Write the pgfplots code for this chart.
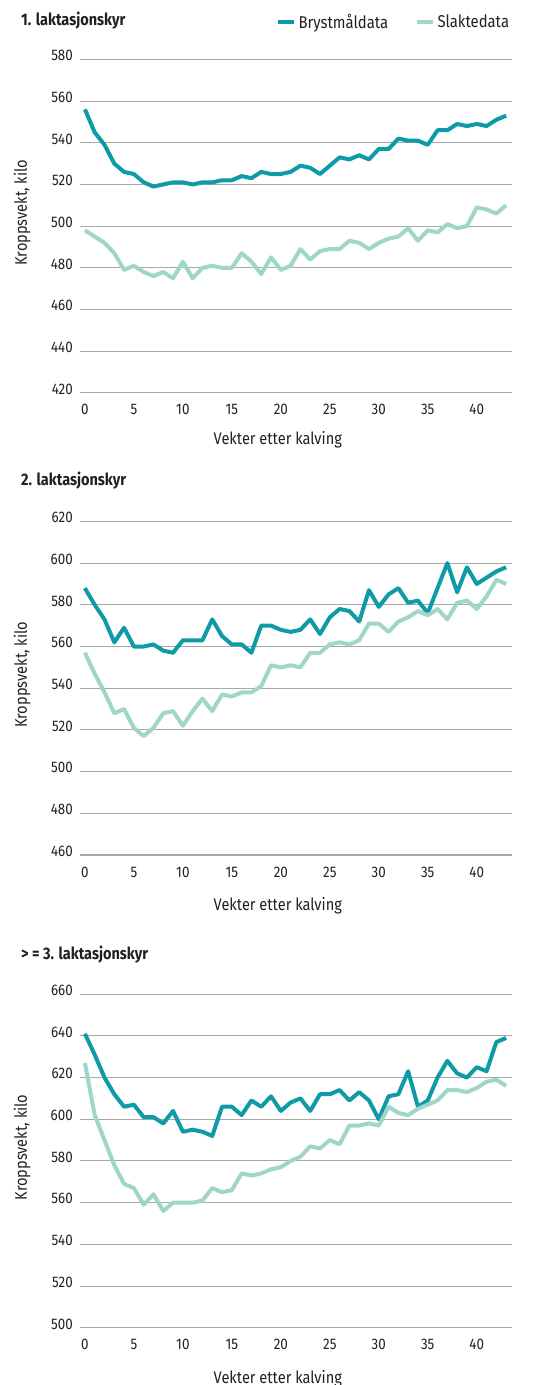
\documentclass[border=0pt]{standalone}
\usepackage{fontspec}
\setmainfont{Fira Sans}[FakeStretch=0.87]
\usepackage{pgfplots}
\usepackage{pgfplotstable}
\pgfplotsset{compat=1.18}

\definecolor{bryst}{HTML}{0E9AA7}
\definecolor{slakt}{HTML}{9FD6C8}
\definecolor{gridc}{HTML}{A8A8A8}
\definecolor{txt}{HTML}{231F20}

% uke, brystmaal, slakt
\pgfplotstableread{
x b s
0 556 498
1 545 495
2 539 492
3 530 487
4 526 479
5 525 481
6 521 478
7 519 476
8 520 478
9 521 475
10 521 483
11 520 475
12 521 480
13 521 481
14 522 480
15 522 480
16 524 487
17 523 483
18 526 477
19 525 485
20 525 479
21 526 481
22 529 489
23 528 484
24 525 488
25 529 489
26 533 489
27 532 493
28 534 492
29 532 489
30 537 492
31 537 494
32 542 495
33 541 499
34 541 493
35 539 498
36 546 497
37 546 501
38 549 499
39 548 500
40 549 509
41 548 508
42 551 506
43 553 510
}\lakta

\pgfplotstableread{
x b s
0 588 557
1 580 547
2 573 538
3 562 528
4 569 530
5 560 521
6 560 517
7 561 521
8 558 528
9 557 529
10 563 522
11 563 529
12 563 535
13 573 529
14 565 537
15 561 536
16 561 538
17 557 538
18 570 541
19 570 551
20 568 550
21 567 551
22 568 550
23 573 557
24 566 557
25 574 561
26 578 562
27 577 561
28 572 563
29 587 571
30 579 571
31 585 567
32 588 572
33 581 574
34 582 577
35 576 575
36 588 578
37 600 573
38 586 581
39 598 582
40 590 578
41 593 584
42 596 592
43 598 590
}\laktb

\pgfplotstableread{
x b s
0 641 627
1 631 602
2 620 590
3 612 578
4 606 569
5 607 567
6 601 559
7 601 564
8 598 556
9 604 560
10 594 560
11 595 560
12 594 561
13 592 567
14 606 565
15 606 566
16 602 574
17 609 573
18 606 574
19 611 576
20 604 577
21 608 580
22 610 582
23 604 587
24 612 586
25 612 590
26 614 588
27 609 597
28 613 597
29 609 598
30 600 597
31 611 606
32 612 603
33 623 602
34 606 605
35 609 607
36 620 609
37 628 614
38 622 614
39 620 613
40 625 615
41 623 618
42 637 619
43 639 616
}\laktc

\pgfplotsset{
  panel/.style={
    scale only axis, width=324pt, height=250.2pt,
    anchor=south west,
    xmin=-0.5, xmax=43.6,
    xtick={0,5,...,40},
    axis line style={draw=none},
    major tick length=0pt,
    ymajorgrids, grid style={gridc, line width=0.8pt},
    font=\fontsize{11.5}{13}\selectfont\color{txt},
    /pgf/number format/assume math mode=true,
    /pgf/number format/set thousands separator={},
    yticklabel style={anchor=base east, inner sep=0pt, xshift=-5.25pt, yshift=-1pt},
    xticklabel style={anchor=base, inner sep=0pt, yshift=-16.5pt},
    xlabel={Vekter etter kalving},
    ylabel={Kroppsvekt, kilo},
    label style={font=\fontsize{12.6}{14}\selectfont\color{txt}},
    ylabel style={at={(axis description cs:-0.134,0.54)}, anchor=center, rotate=0},
    title style={anchor=base west, inner sep=0pt, font=\fontsize{12.5}{14}\selectfont\bfseries\color{txt}},
    every axis plot/.append style={line width=3pt, line join=round, mark=none},
  },
}

\begin{document}
\begin{tikzpicture}
\useasboundingbox (0,0) rectangle (413.25pt,-1038.75pt);

\begin{axis}[panel, at={(60pt,-294.7pt)},
  ymin=420, ymax=580, ytick={420,440,...,580},
  title={1. laktasjonskyr},
  title style={at={(axis description cs:-0.137,1.078)}},
  xlabel style={at={(axis description cs:0.458,0)}, anchor=base, inner sep=0pt, yshift=-39pt},
  legend columns=2,
  legend style={at={(axis description cs:1,1)}, anchor=south east, yshift=19.5pt,
    draw=none, fill=none, inner sep=0pt, font=\fontsize{12.8}{15}\selectfont\color{txt},
    /tikz/every even column/.append style={column sep=18pt}},
  legend image code/.code={\draw[#1, line width=3pt] (0pt,0pt) -- (12pt,0pt);},
]
\addplot[bryst] table[x=x, y=b] {\lakta};
\addlegendentry{Brystmåldata}
\addplot[slakt] table[x=x, y=s] {\lakta};
\addlegendentry{Slaktedata}
\end{axis}

\begin{axis}[panel, at={(60pt,-641.25pt)},
  ymin=460, ymax=620, ytick={460,480,...,620},
  title={2. laktasjonskyr},
  title style={at={(axis description cs:-0.137,1.085)}},
  xlabel style={at={(axis description cs:0.458,0)}, anchor=base, inner sep=0pt, yshift=-41.5pt},
]
\addplot[bryst] table[x=x, y=b] {\laktb};
\addplot[slakt] table[x=x, y=s] {\laktb};
\end{axis}

\begin{axis}[panel, at={(60pt,-995.8pt)},
  ymin=500, ymax=660, ytick={500,520,...,660},
  title={> = 3. laktasjonskyr},
  title style={at={(axis description cs:-0.137,1.08)}},
  xlabel style={at={(axis description cs:0.458,0)}, anchor=base, inner sep=0pt, yshift=-41.5pt},
]
\addplot[bryst] table[x=x, y=b] {\laktc};
\addplot[slakt] table[x=x, y=s] {\laktc};
\end{axis}
\end{tikzpicture}
\end{document}
